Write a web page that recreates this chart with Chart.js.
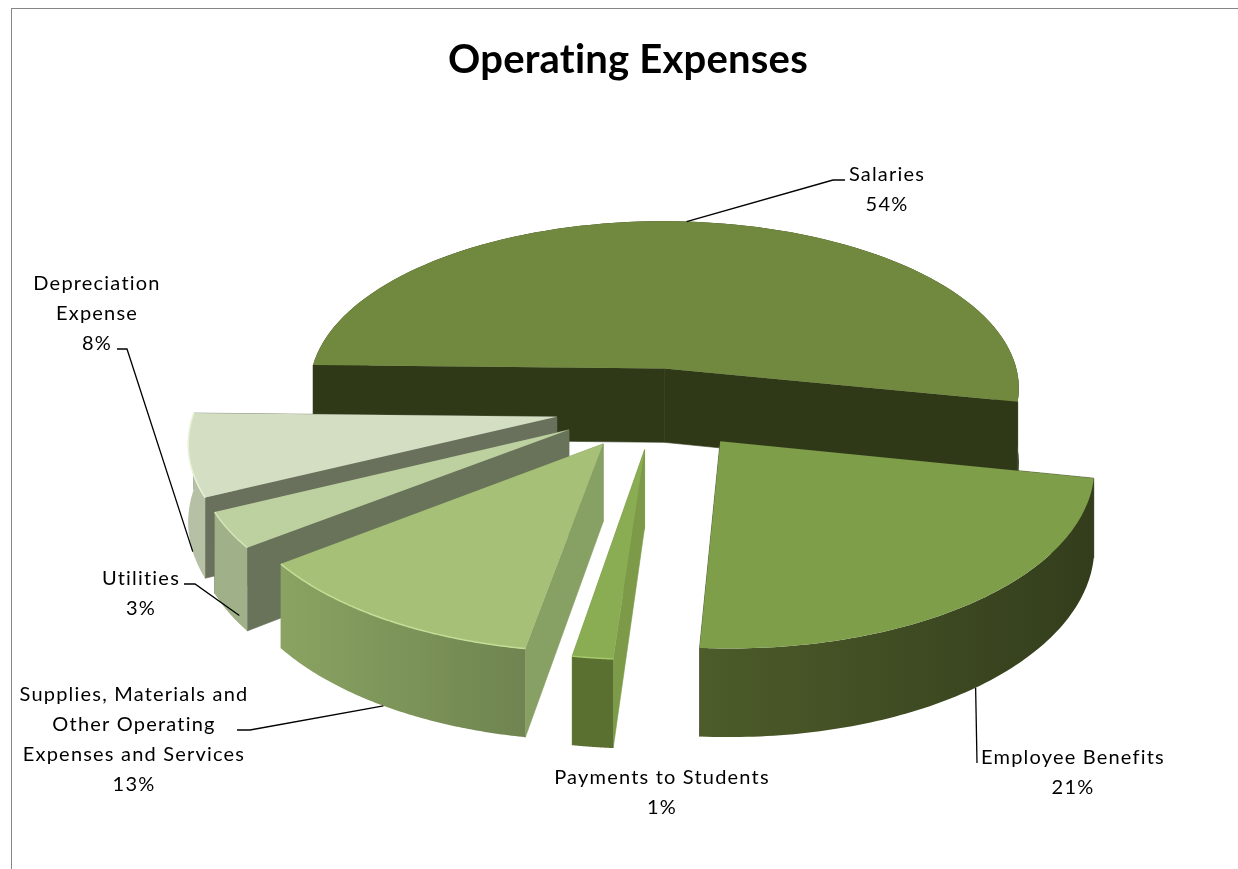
<!DOCTYPE html>
<html>
<head>
<meta charset="utf-8">
<title>Operating Expenses</title>
<script src="https://cdn.jsdelivr.net/npm/chart.js@4"></script>
<style>
  html, body { margin: 0; padding: 0; background: #fff; overflow: hidden; }
  #wrap { position: relative; width: 1238px; height: 869px; }
  #frame { position: absolute; left: 11px; top: 8px; right: 0; bottom: 0; border-left: 1px solid #868686; border-top: 1px solid #868686; }
  canvas { position: absolute; left: 0; top: 0; }
</style>
</head>
<body>
<div id="wrap">
  <div id="frame"></div>
  <canvas id="chart" width="1238" height="869"></canvas>
</div>
<script>
const chartTitle = "Operating Expenses";
const categories = ["Salaries", "Employee Benefits", "Payments to Students", "Supplies, Materials and Other Operating Expenses and Services", "Utilities", "Depreciation Expense"];
const shares = [54, 21, 1, 13, 3, 8];

// Slice colours (walls run left to right)
const topColors = ["#71893e", "#7f9e4a", "#8aac52", "#a6c078", "#bdd0a0", "#d3dec3"];
const wallLeft = ["#2f3817", "#4d5c2a", "#5a7030", "#8aa362", "#a0b088", "#b5c0a5"];
const wallRight = ["#2f3817", "#333d1c", "#5a7030", "#6f8450", "#a0b088", "#b5c0a5"];
const edgeColors = ["#2f3817", "#353f1d", "#7c9a48", "#87a064", "#69735a", "#69705c"];
const rimColors = [null, null, "#a5c86a", "#c6dd98", "#d5e4bb", "#eaf3d8"];

// Label text lines and where they sit on the page
const labelLines = [
    ["Salaries", "54%"],
    ["Employee Benefits", "21%"],
    ["Payments to Students", "1%"],
    ["Supplies, Materials and", "Other Operating", "Expenses and Services", "13%"],
    ["Utilities", "3%"],
    ["Depreciation", "Expense", "8%"]
];
const labelBoxes = [
    { x: 887, y: 175 },
    { x: 1073, y: 758 },
    { x: 662, y: 778 },
    { x: 134, y: 695 },
    { x: 141, y: 579 },
    { x: 97, y: 284 }
];
// Leader lines: where on the slice they start, then elbow points towards the text
const leaders = [
    { at: 0.5, drop: 0, via: [[833, 180], [845, 180]] },
    { at: 0.5, drop: 1, via: [[977, 763]] },
    null,
    { at: 0.5, drop: 1, via: [[250, 730], [237, 730]] },
    { at: 0.2, drop: 0.9, via: [[195, 584], [184, 584]] },
    { at: 0.3, drop: 1, via: [[127, 349], [117, 349]] }
];

// Perspective of the pie plane
const view = { cx: 657, cy: 408, tilt: 0.48, persp: 0.12, height: 76, spreadLeft: 1.2, spreadRight: 1.2 };
// How far the drawn angle drifts from the true one around the circle (degrees)
const drift = [[0, -1.5], [11, 0], [87, 7], [90.6, 9], [137, 5], [148, 6], [177, 4.2], [230, 0], [330, 0], [360, -1.5]];

function bend(a) {
    const deg = ((a * 180 / Math.PI) % 360 + 360) % 360;
    for (let i = 1; i < drift.length; i++) {
        if (deg <= drift[i][0]) {
            const t = (deg - drift[i - 1][0]) / (drift[i][0] - drift[i - 1][0]);
            return a + (drift[i - 1][1] + t * (drift[i][1] - drift[i - 1][1])) * Math.PI / 180;
        }
    }
    return a;
}

function project(arc, angle, r, drop) {
    const mid = bend((arc.startAngle + arc.endAngle) / 2);
    const a = bend(angle);
    const off = arc.options.offset;
    const offU = off * Math.cos(mid);
    const u = offU * (offU < 0 ? view.spreadLeft : view.spreadRight) + r * Math.cos(a);
    const v = off * Math.sin(mid) + r * Math.sin(a);
    const s = 1 / (1 - view.persp * v / arc.outerRadius);
    return [view.cx + u * s, view.cy + view.tilt * v * s + view.height * drop * s];
}

function tracePoly(ctx, pts) {
    ctx.beginPath();
    pts.forEach((p, i) => i ? ctx.lineTo(p[0], p[1]) : ctx.moveTo(p[0], p[1]));
    ctx.closePath();
}

function rimPoints(arc, drop) {
    const pts = [];
    const steps = 90;
    for (let i = 0; i <= steps; i++) {
        const a = arc.startAngle + (arc.endAngle - arc.startAngle) * i / steps;
        pts.push(project(arc, a, arc.outerRadius, drop));
    }
    return pts;
}

function drawSlice(ctx, arc, i) {
    const apexTop = project(arc, arc.startAngle, 0, 0);
    const apexLow = project(arc, arc.startAngle, 0, 1);
    const rimTop = rimPoints(arc, 0);
    const rimLow = rimPoints(arc, 1);

    // end side, then start side, then the curved wall and the top face
    [[rimTop[rimTop.length - 1], rimLow[rimLow.length - 1]], [rimTop[0], rimLow[0]]].forEach(edge => {
        tracePoly(ctx, [apexTop, edge[0], edge[1], apexLow]);
        ctx.fillStyle = edgeColors[i];
        ctx.strokeStyle = edgeColors[i];
        ctx.lineWidth = 0.6;
        ctx.fill();
        ctx.stroke();
    });

    const xs = rimLow.map(p => p[0]);
    const grad = ctx.createLinearGradient(Math.min(...xs), 0, Math.max(...xs), 0);
    grad.addColorStop(0, wallLeft[i]);
    grad.addColorStop(1, wallRight[i]);
    tracePoly(ctx, rimTop.concat(rimLow.slice().reverse()));
    ctx.fillStyle = grad;
    ctx.fill();

    tracePoly(ctx, [apexTop].concat(rimTop));
    ctx.fillStyle = topColors[i];
    ctx.fill();

    if (rimColors[i]) {
        ctx.beginPath();
        rimTop.forEach((p, k) => k ? ctx.lineTo(p[0], p[1]) : ctx.moveTo(p[0], p[1]));
        ctx.strokeStyle = rimColors[i];
        ctx.lineWidth = 1.5;
        ctx.stroke();
    }
}

const pie3d = {
    id: "pie3d",
    beforeDraw(chart) {
        // stops Lato joining "ti" in the title
        chart.ctx.letterSpacing = "0.2px";
    },
    beforeDatasetDraw(chart) {
        const ctx = chart.ctx;
        const arcs = chart.getDatasetMeta(0).data;
        const order = arcs.map((_, i) => i).sort((a, b) => {
            const m = k => Math.sin((arcs[k].startAngle + arcs[k].endAngle) / 2);
            return m(a) - m(b);
        });
        ctx.save();
        order.forEach(i => drawSlice(ctx, arcs[i], i));
        ctx.restore();
        return false;
    },
    afterDraw(chart) {
        const ctx = chart.ctx;
        const arcs = chart.getDatasetMeta(0).data;
        ctx.save();
        ctx.font = "20px Lato";
        ctx.letterSpacing = "1.2px";
        ctx.fillStyle = "#000";
        ctx.textAlign = "center";
        ctx.textBaseline = "middle";
        labelLines.forEach((lines, i) => {
            lines.forEach((line, k) => ctx.fillText(line, labelBoxes[i].x, labelBoxes[i].y + k * 30));
        });
        ctx.strokeStyle = "#000";
        ctx.lineWidth = 1.3;
        leaders.forEach((lead, i) => {
            if (!lead) return;
            const arc = arcs[i];
            const a = arc.startAngle + (arc.endAngle - arc.startAngle) * lead.at;
            const p = project(arc, a, arc.outerRadius, lead.drop);
            ctx.beginPath();
            ctx.moveTo(p[0], p[1]);
            lead.via.forEach(q => ctx.lineTo(q[0], q[1]));
            ctx.stroke();
        });
        ctx.restore();
    }
};

new Chart(document.getElementById("chart"), {
    type: "pie",
    data: {
        labels: categories,
        datasets: [{
            data: shares,
            backgroundColor: topColors,
            offset: 85,
            radius: 362,
            borderWidth: 0
        }]
    },
    options: {
        responsive: false,
        animation: false,
        rotation: 267,
        layout: { padding: { left: 18, top: 36 } },
        plugins: {
            legend: { display: false },
            tooltip: { enabled: false },
            title: {
                display: true,
                text: chartTitle,
                color: "#000",
                font: { family: "Lato", size: 40, weight: "bold" },
                padding: { top: 0, bottom: 10 }
            }
        }
    },
    plugins: [pie3d]
});
</script>
</body>
</html>
